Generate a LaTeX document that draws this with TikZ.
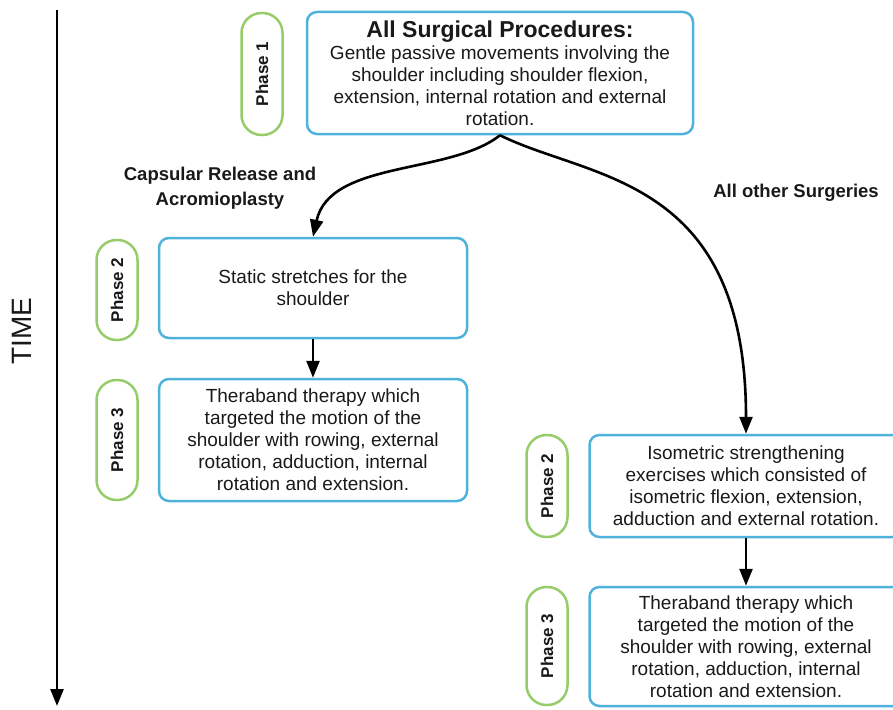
\documentclass[tikz,border=0pt]{standalone}
\usepackage{fontspec}
\setmainfont{Liberation Sans}
\usetikzlibrary{arrows.meta}
\definecolor{boxblue}{RGB}{79,178,219}
\definecolor{pillgreen}{RGB}{150,204,105}
\definecolor{txt}{RGB}{25,25,25}
\begin{document}
\begin{tikzpicture}[x=1pt,y=-1pt,
  stepbox/.style={draw=boxblue, line width=2.5pt, rounded corners=10pt, inner sep=0pt, align=center, text=txt, font=\fontsize{19}{22}\selectfont},
  pill/.style={draw=pillgreen, line width=2.5pt, rounded corners=20pt, rotate=90, minimum height=41pt, inner sep=0pt, text=txt, font=\bfseries\fontsize{17}{19}\selectfont},
  conn/.style={line width=2.6pt, -{Triangle[length=17pt,width=13pt]}},
  lab/.style={font=\bfseries\fontsize{18.5}{25}\selectfont, align=center, text=txt}]
\useasboundingbox (0,0) rectangle (893,709);

% time axis
\coordinate (t0) at (57,10);
\coordinate (t1) at (57,706);
\draw[conn] (t0) -- (t1);
\node[rotate=90, text=txt, font=\fontsize{28}{30}\selectfont] (time) at (22,331) {TIME};

% phase 1
\node[pill, minimum width=122pt] (p1) at (262,74) {Phase 1};
\node[stepbox, minimum width=386pt, minimum height=122pt] (top) at (500,73)
  {{\fontsize{23}{26}\selectfont\bfseries All Surgical Procedures:}\\[0pt]
   Gentle passive movements involving the\\
   shoulder including shoulder flexion,\\
   extension, internal rotation and external\\
   rotation.};

% labels
\node[lab] (labl) at (220,188) {Capsular Release and\\Acromioplasty};
\node[lab] (labr) at (796,193) {All other Surgeries};

% left branch
\node[pill, minimum width=100pt] (lp2) at (117,290) {Phase 2};
\node[stepbox, minimum width=308pt, minimum height=100pt] (l2) at (313,288)
  {Static stretches for the\\shoulder};
\node[pill, minimum width=120pt] (lp3) at (117,440) {Phase 3};
\node[stepbox, minimum width=308pt, minimum height=122pt] (l3) at (313,440)
  {Theraband therapy which\\targeted the motion of the\\shoulder with rowing, external\\rotation, adduction, internal\\rotation and extension.};

% right branch
\node[pill, minimum width=102pt] (rp2) at (547,486) {Phase 2};
\node[stepbox, minimum width=313pt, minimum height=102pt] (r2) at (746,486)
  {Isometric strengthening\\exercises which consisted of\\isometric flexion, extension,\\adduction and external rotation.};
\node[pill, minimum width=118pt] (rp3) at (547,646) {Phase 3};
\node[stepbox, minimum width=313pt, minimum height=119pt] (r3) at (746,646.5)
  {Theraband therapy which\\targeted the motion of the\\shoulder with rowing, external\\rotation, adduction, internal\\rotation and extension.};

% connectors
\draw[conn] (top.south) .. controls (450,175) and (330,160) .. (l2.north);
\draw[conn] (top.south) .. controls (590,180) and (746,175) .. (r2.north);
\draw[conn] (l2) -- (l3);
\draw[conn] (r2) -- (r3);
\end{tikzpicture}
\end{document}
